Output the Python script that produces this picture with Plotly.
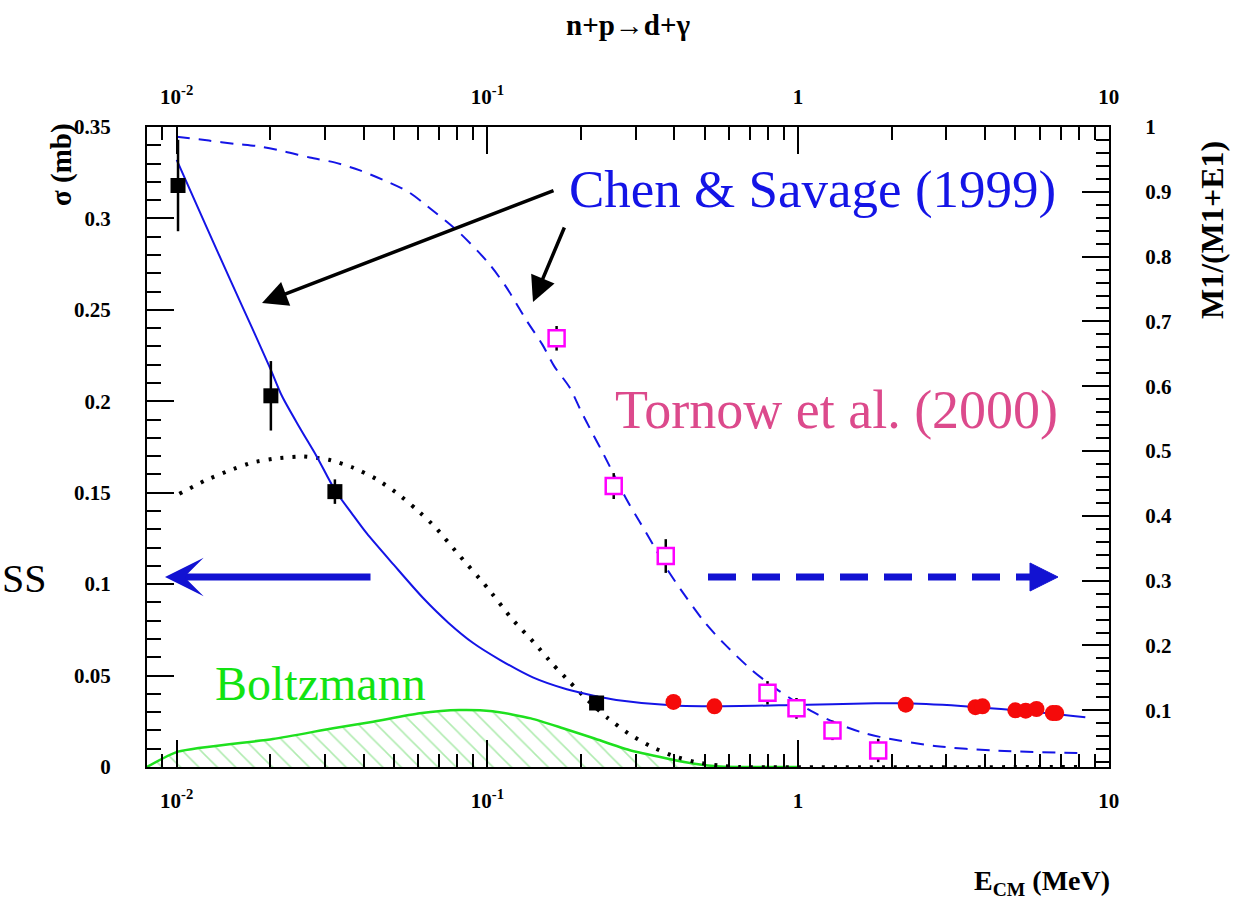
import math
import plotly.graph_objects as go

# ---------------- data ----------------
# Black squares: sigma (mb), left axis
sq_x = [0.0101, 0.0201, 0.0323, 0.2246]
sq_y = [0.318, 0.203, 0.1506, 0.035]
sq_err = [0.025, 0.019, 0.0067, 0.004]

# Red circles: sigma (mb), left axis
red_x = [0.397, 0.538, 2.22, 3.72, 3.92, 5.0, 5.4, 5.85, 6.6, 6.77]
red_y = [0.0356, 0.0332, 0.0341, 0.0327, 0.0332, 0.0310, 0.0308, 0.0317, 0.0295, 0.0295]

# Tornow et al. (2000): M1/(M1+E1), right axis
tor_x = [0.167, 0.255, 0.375, 0.797, 0.988, 1.29, 1.81]
tor_y = [0.674, 0.446, 0.338, 0.127, 0.103, 0.069, 0.038]
tor_err = [0.019, 0.020, 0.026, 0.018, 0.016, 0.015, 0.018]

# Chen & Savage sigma curve (solid, left axis)
cs_x = [0.01, 0.0125, 0.015, 0.0175, 0.02, 0.0218, 0.025, 0.0282, 0.0323, 0.0365,
        0.0408, 0.05, 0.0621, 0.075, 0.09, 0.11, 0.14, 0.18, 0.22, 0.26, 0.4,
        0.54, 0.98, 1.77, 2.22, 3.6, 4.9, 8.4]
cs_y = [0.332, 0.295, 0.265, 0.240, 0.218, 0.203, 0.185, 0.170, 0.1515, 0.139,
        0.128, 0.1105, 0.0924, 0.0788, 0.0678, 0.0585, 0.0490, 0.0425, 0.039, 0.0367, 0.0336,
        0.0332, 0.0339, 0.0348, 0.0348, 0.0330, 0.0312, 0.0272]

# Chen & Savage M1 fraction curve (dashed, right axis)
m1_x = [0.01, 0.0127, 0.0154, 0.0185, 0.0223, 0.0268, 0.0324, 0.0389, 0.0464, 0.0556,
        0.0644, 0.08, 0.1, 0.115, 0.133, 0.15, 0.164, 0.184, 0.2, 0.217, 0.236, 0.28,
        0.309, 0.342, 0.375, 0.418, 0.5, 0.58, 0.71, 0.85, 1.1, 1.33, 1.6, 1.83, 2.75, 4.2, 8.4]
m1_y = [0.985, 0.979, 0.974, 0.970, 0.962, 0.953, 0.945, 0.933, 0.918, 0.900,
        0.877, 0.840, 0.792, 0.753, 0.703, 0.665, 0.631, 0.598, 0.562, 0.529, 0.496, 0.426,
        0.391, 0.355, 0.321, 0.287, 0.236, 0.202, 0.162, 0.133, 0.099, 0.080, 0.066, 0.059,
        0.045, 0.038, 0.034]

# Dotted black curve (left axis)
dot_x = [0.0102, 0.0123, 0.0147, 0.0175, 0.0212, 0.0256, 0.0309, 0.0369, 0.0439, 0.0512,
         0.059, 0.068, 0.08, 0.1, 0.12, 0.143, 0.162, 0.185, 0.211, 0.243, 0.284, 0.333,
         0.397, 0.476, 0.576, 0.65, 8.0]
dot_y = [0.1494, 0.1565, 0.162, 0.1665, 0.1689, 0.1698, 0.168, 0.1638, 0.1575, 0.1497,
         0.141, 0.1311, 0.117, 0.098, 0.081, 0.067, 0.0563, 0.0461, 0.0363, 0.027, 0.0184, 0.0115,
         0.006, 0.0024, 0.0005, 0.0, 0.0]

# Boltzmann distribution (green, hatched, left axis)
bz_x = [0.00802, 0.0101, 0.0204, 0.0319, 0.0429, 0.0606, 0.0814, 0.104, 0.138, 0.175,
        0.22, 0.286, 0.375, 0.47, 0.56, 0.7, 1.0]
bz_y = [0.0, 0.0084, 0.0153, 0.0212, 0.0248, 0.0294, 0.0312, 0.0305, 0.0266, 0.0212,
        0.0157, 0.0093, 0.0048, 0.0016, 0.0003, 0.0, 0.0]

# axis ticks
x_tickvals = [0.01, 0.1, 1, 10]
x_ticktext = ["10<sup>-2</sup>", "10<sup>-1</sup>", "1", "10"]
yl_tickvals = [0, 0.05, 0.1, 0.15, 0.2, 0.25, 0.3, 0.35]
yl_ticktext = ["0", "0.05", "0.1", "0.15", "0.2", "0.25", "0.3", "0.35"]
yr_tickvals = [0.1, 0.2, 0.3, 0.4, 0.5, 0.6, 0.7, 0.8, 0.9, 1.0]
yr_ticktext = ["0.1", "0.2", "0.3", "0.4", "0.5", "0.6", "0.7", "0.8", "0.9", "1"]

# ---------------- layout geometry ----------------
W, H = 1233, 908
L, R, T, B = 147, 1109, 127, 767
XMIN, XMAX = -2.0955, 1.0005
YL = [0, 0.35]
YR = [0.0125, 1.0]

def px2x(px):
    return (px - L) / (R - L)

def py2y(py):
    return (B - py) / (B - T)

x_minor = [k * 10 ** e for e in range(-3, 1) for k in range(2, 10)]
x_minor = [v for v in x_minor if 10 ** XMIN <= v <= 10 ** XMAX]

SERIF = "Liberation Serif"
BLUE = "#1414e6"
ARROW = "#1212d2"
tickfont = dict(family=SERIF, size=21, color="black", weight="bold")

fig = go.Figure()

fig.add_trace(go.Scatter(
    x=bz_x, y=bz_y, mode="lines", line=dict(color="#1ee01e", width=2.5, shape="spline", smoothing=0.6),
    fill="tozeroy", fillcolor="rgba(0,0,0,0)",
    fillpattern=dict(shape="\\", size=13, solidity=0.12, fgcolor="#62d862",
                     bgcolor="rgba(0,0,0,0)"),
    showlegend=False, hoverinfo="skip"))

fig.add_trace(go.Scatter(
    x=dot_x, y=dot_y, mode="lines",
    line=dict(color="black", width=4, dash="3px,9px", shape="spline", smoothing=0.5),
    showlegend=False))

fig.add_trace(go.Scatter(
    x=cs_x, y=cs_y, mode="lines", line=dict(color=BLUE, width=2, shape="spline", smoothing=0.8),
    showlegend=False))

fig.add_trace(go.Scatter(
    x=sq_x, y=sq_y, mode="markers",
    marker=dict(symbol="square", size=15, color="black"),
    error_y=dict(type="data", array=sq_err, color="black", thickness=2.5, width=0),
    showlegend=False))

fig.add_trace(go.Scatter(
    x=red_x, y=red_y, mode="markers",
    marker=dict(symbol="circle", size=16, color="#f50a0a"),
    showlegend=False))

fig.add_trace(go.Scatter(
    x=m1_x, y=m1_y, mode="lines", xaxis="x2", yaxis="y2",
    line=dict(color=BLUE, width=2, dash="13px,9px", shape="spline", smoothing=0.8),
    showlegend=False))

fig.add_trace(go.Scatter(
    x=tor_x, y=tor_y, mode="markers", xaxis="x2", yaxis="y2",
    marker=dict(symbol="square", size=16, color="white",
                line=dict(color="#ff00ff", width=2.5)),
    error_y=dict(type="data", array=tor_err, color="black", thickness=2.5, width=0),
    showlegend=False))

common_x = dict(
    type="log", range=[XMIN, XMAX], tickmode="array", tickvals=x_tickvals,
    ticktext=x_ticktext, ticks="inside", ticklen=27, tickwidth=2, tickcolor="black",
    showline=True, linewidth=2, linecolor="black", showgrid=False, zeroline=False,
    tickfont=tickfont,
    minor=dict(tickmode="array", tickvals=x_minor, ticks="inside", ticklen=13,
               tickwidth=2, tickcolor="black", showgrid=False),
)

fig.update_layout(
    width=W, height=H, autosize=False,
    margin=dict(l=L, r=W - R, t=T, b=H - B, pad=0),
    paper_bgcolor="white", plot_bgcolor="white",
    showlegend=False,
    xaxis=dict(**common_x, side="bottom", anchor="y", ticklabelstandoff=14),
    xaxis2=dict(**common_x, side="top", overlaying="x", matches="x", anchor="y",
                ticklabelstandoff=13),
    yaxis=dict(range=YL, tickmode="array", tickvals=yl_tickvals, ticktext=yl_ticktext,
               ticks="inside", ticklen=27, tickwidth=2, tickcolor="black",
               showline=True, linewidth=2, linecolor="black", showgrid=False,
               zeroline=False, tickfont=tickfont, ticklabelstandoff=30,
               minor=dict(dtick=0.01, tick0=0, ticks="inside", ticklen=14,
                          tickwidth=2, tickcolor="black", showgrid=False)),
    yaxis2=dict(range=YR, overlaying="y", side="right", anchor="x", tickmode="array",
                tickvals=yr_tickvals, ticktext=yr_ticktext,
                ticks="inside", ticklen=27, tickwidth=2, tickcolor="black",
                showline=True, linewidth=2, linecolor="black", showgrid=False,
                zeroline=False, tickfont=tickfont, ticklabelstandoff=30,
                minor=dict(dtick=0.02, tick0=0, ticks="inside", ticklen=13,
                           tickwidth=2, tickcolor="black", showgrid=False)),
)

def label(text, px, py, size, color="black", angle=0, xanchor="center"):
    return dict(text=text, x=px2x(px), y=py2y(py), xref="paper", yref="paper",
                xanchor=xanchor, yanchor="middle", showarrow=False, textangle=angle,
                font=dict(family=SERIF, size=size, color=color))

ann = [
    label("<b>n+p→d+γ</b>", 628, 25, 29),
    label("<b>σ (mb)</b>", 62, 165, 29, angle=-90),
    label("<b>M1/(M1+E1)</b>", 1212, 230, 32, angle=-90),
    label("<b>E<sub>CM</sub> (MeV)</b>", 1042, 882, 28),
    label("Chen &amp; Savage (1999)", 812, 190, 53, BLUE),
    label("Tornow et al. (2000)", 836, 410, 54, "#dc4a8c"),
    label("Boltzmann", 320, 683, 48, "#12e312"),
    label("SS", 0, 578, 40, xanchor="left"),
]
# black arrows from the Chen & Savage label
ann.append(dict(text="", x=px2x(262), y=py2y(303), xref="paper", yref="paper", showarrow=True,
                ax=293, ay=-113, arrowhead=2, arrowsize=1.45, arrowwidth=3.5, arrowcolor="black"))
ann.append(dict(text="", x=px2x(533), y=py2y(302), xref="paper", yref="paper", showarrow=True,
                ax=32, ay=-76, arrowhead=2, arrowsize=1.45, arrowwidth=3.5, arrowcolor="black"))
# blue solid arrow pointing to the left axis
ann.append(dict(text="", x=px2x(165), y=py2y(577), xref="paper", yref="paper", showarrow=True,
                ax=207, ay=0, arrowhead=3, arrowsize=0.92, arrowwidth=7, arrowcolor=ARROW))
fig.update_layout(annotations=ann)

# blue dashed arrow pointing to the right axis
fig.add_shape(type="line", xref="paper", yref="paper", x0=px2x(708), x1=px2x(1032),
              y0=py2y(577), y1=py2y(577), line=dict(color=ARROW, width=7, dash="28px,16px"))
fig.add_shape(type="path", xref="paper", yref="paper",
              path=f"M {px2x(1058)},{py2y(577)} L {px2x(1030)},{py2y(563)} L {px2x(1030)},{py2y(591)} Z",
              fillcolor=ARROW, line=dict(color=ARROW, width=1))

fig.write_html("out.html")
